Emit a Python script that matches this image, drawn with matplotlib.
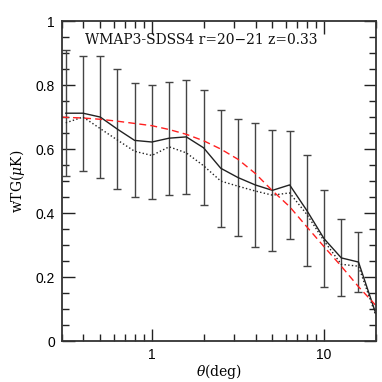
import numpy as np
import matplotlib
matplotlib.use('Agg')
from matplotlib import pyplot as plt
from matplotlib.ticker import MultipleLocator, FixedLocator, LogLocator, NullFormatter

# angular bins (deg)
theta = [0.316, 0.398, 0.501, 0.631, 0.794, 1.0, 1.259, 1.585, 1.995, 2.512,
         3.162, 3.981, 5.012, 6.310, 7.943, 10.0, 12.59, 15.85]
# measured wTG (solid) and 1-sigma errors
wtg = [0.712, 0.712, 0.700, 0.662, 0.627, 0.622, 0.634, 0.638, 0.604, 0.540,
       0.511, 0.488, 0.471, 0.488, 0.408, 0.320, 0.260, 0.247]
err = [0.196, 0.180, 0.190, 0.187, 0.178, 0.179, 0.177, 0.177, 0.179, 0.183,
       0.184, 0.194, 0.189, 0.169, 0.173, 0.151, 0.120, 0.094]
# line continues to the plot edge
theta_end = 19.95
wtg_end = 0.087

# second measurement (dotted)
wtg_dot = [0.682, 0.700, 0.664, 0.628, 0.593, 0.580, 0.607, 0.588, 0.548, 0.500,
           0.484, 0.469, 0.456, 0.463, 0.396, 0.313, 0.240, 0.234]
wtg_dot_end = 0.081

# model (red dashed)
theta_mod = [0.30] + theta + [19.95]
wtg_mod = [0.700, 0.699, 0.697, 0.693, 0.687, 0.680, 0.673, 0.661, 0.646, 0.626,
           0.600, 0.568, 0.524, 0.470, 0.420, 0.357, 0.295, 0.234, 0.170, 0.112]

plt.rcParams['mathtext.fontset'] = 'dejavuserif'

fig = plt.figure(figsize=(3.82, 3.82), dpi=100)
ax = fig.add_axes([0.162, 0.107, 0.822, 0.838])

col = '#222222'
ax.errorbar(theta, wtg, yerr=err, fmt='none', ecolor='#444444', elinewidth=1.0,
            capsize=3, capthick=1.0)
ax.plot(theta + [theta_end], wtg + [wtg_end], '-', color=col, lw=1.0)
ax.plot(theta + [theta_end], wtg_dot + [wtg_dot_end], ':', color=col, lw=1.0)
ax.plot(theta_mod, wtg_mod, '--', color='#ff2020', lw=1.0, dashes=(5, 3))

ax.set_xscale('log')
ax.set_xlim(0.3, 20)
ax.set_ylim(0, 1)

ax.xaxis.set_major_locator(FixedLocator([1, 10]))
ax.set_xticklabels(['1', '10'])
ax.xaxis.set_minor_locator(LogLocator(base=10, subs=np.arange(2, 10)))
ax.xaxis.set_minor_formatter(NullFormatter())
ax.yaxis.set_major_locator(MultipleLocator(0.2))
ax.yaxis.set_minor_locator(MultipleLocator(0.05))
ax.set_yticks([0, 0.2, 0.4, 0.6, 0.8, 1.0])
ax.set_yticklabels(['0', '0.2', '0.4', '0.6', '0.8', '1'])

ax.tick_params(which='both', direction='in', top=True, right=True, color=col,
               labelsize=10, pad=5)
ax.tick_params(which='major', length=9, width=1.0)
ax.tick_params(which='minor', length=5, width=1.0)
for lab in ax.get_xticklabels() + ax.get_yticklabels():
    lab.set_family('Liberation Sans')
for s in ax.spines.values():
    s.set_linewidth(1.3)
    s.set_color('#333333')

ax.set_xlabel(r'$\theta$(deg)', family='DejaVu Serif', fontsize=10, labelpad=0)
ax.set_ylabel(r'wTG($\mu$K)', family='DejaVu Serif', fontsize=10, labelpad=6)

ax.text(0.075, 0.94, 'WMAP3-SDSS4 r=20\u221221 z=0.33', transform=ax.transAxes,
        family='DejaVu Serif', fontsize=10, va='center', ha='left', color='#111111')

fig.savefig('out.png', dpi=100)
